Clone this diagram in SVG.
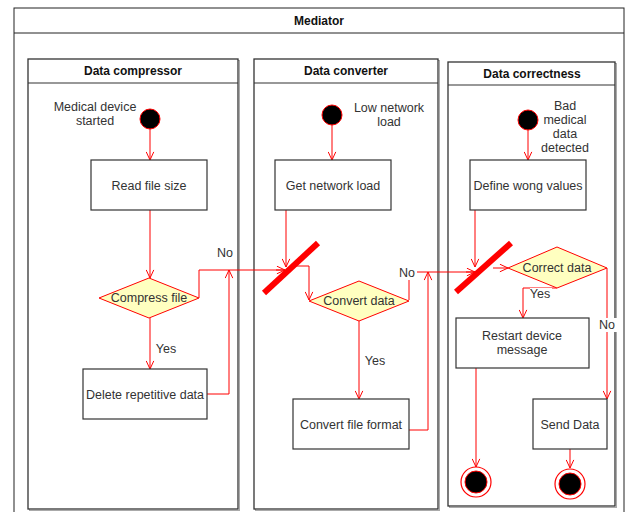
<svg xmlns="http://www.w3.org/2000/svg" width="630" height="512" viewBox="0 0 630 512">
  <defs>
    <marker id="open" viewBox="0 0 10 10" refX="9.5" refY="5" markerWidth="9" markerHeight="9" markerUnits="userSpaceOnUse" orient="auto">
      <path d="M0.5,0.8 L9.5,5 L0.5,9.2" fill="none" stroke="#ff0000" stroke-width="1.1"/>
    </marker>
    <style>
      text { font-family: "Liberation Sans", Arial, sans-serif; font-size: 12.5px; fill: #333; }
      .title { font-weight: bold; fill: #111; font-size: 12px; }
      .pool { fill: #fff; stroke: #222; stroke-width: 1; }
      .lane { fill: #fff; stroke: #333; stroke-width: 1.3; }
      .lane-shadow { fill: none; stroke: #aaa; stroke-width: 1; }
      .box { fill: #fff; stroke: #333; stroke-width: 1.2; }
      .dec { fill: #ffffc0; stroke: #ff0000; stroke-width: 1; }
      .start { fill: #000; stroke: #ff0000; stroke-width: 1; }
      .endo { fill: #fff; stroke: #ff0000; stroke-width: 1.2; }
      .edge { fill: none; stroke: #ff0000; stroke-width: 1; }
      .arr { marker-end: url(#open); }
      .bar { stroke: #ff0000; stroke-width: 6; }
      .lbl { fill: #333; }
    </style>
  </defs>

  <!-- pool -->
  <g id="pool-mediator">
    <rect class="pool" x="14" y="8" width="610" height="520"/>
    <line x1="14" y1="33" x2="624" y2="33" stroke="#222" stroke-width="1"/>
    <text class="title" x="319" y="25" text-anchor="middle">Mediator</text>
  </g>

  <!-- lanes -->
  <g id="lane-compressor">
    <rect class="lane-shadow" x="29.5" y="60.5" width="210" height="450"/>
    <rect class="lane" x="28" y="59" width="210" height="450"/>
    <line x1="28" y1="83" x2="238" y2="83" stroke="#333" stroke-width="1.2"/>
    <text class="title" x="133" y="75" text-anchor="middle">Data compressor</text>
  </g>
  <g id="lane-converter">
    <rect class="lane-shadow" x="255.5" y="60.5" width="184" height="450"/>
    <rect class="lane" x="254" y="59" width="184" height="450"/>
    <line x1="254" y1="83" x2="438" y2="83" stroke="#333" stroke-width="1.2"/>
    <text class="title" x="346" y="75" text-anchor="middle">Data converter</text>
  </g>
  <g id="lane-correctness">
    <rect class="lane-shadow" x="449.5" y="63.5" width="167" height="444"/>
    <rect class="lane" x="448" y="62" width="167" height="444"/>
    <line x1="448" y1="85" x2="615" y2="85" stroke="#333" stroke-width="1.2"/>
    <text class="title" x="532" y="78" text-anchor="middle">Data correctness</text>
  </g>

  <!-- connectors -->
  <g id="connectors">
    <path class="edge arr" d="M150,129 V160"/>
    <path class="edge arr" d="M150,210 V278"/>
    <path class="edge arr" d="M150,318 V369"/>
    <path class="edge" d="M199,298 V270 H285"/>
    <path class="edge arr" d="M276,270 H285"/>
    <path class="edge arr" d="M207,394 H229 V270"/>

    <path class="edge arr" d="M332,125 V160"/>
    <path class="edge arr" d="M286,210 V267"/>
    <path class="edge arr" d="M292,266 H309 V300"/>
    <path class="edge arr" d="M359,321 V399"/>
    <path class="edge" d="M409,300 V272 H475"/>
    <path class="edge arr" d="M466,272 H475"/>
    <path class="edge arr" d="M409,430 H428 V272"/>

    <path class="edge arr" d="M528,130 V160"/>
    <path class="edge arr" d="M475,210 V267"/>
    <path class="edge arr" d="M493,268 H508"/>
    <path class="edge arr" d="M557,288 H523 V318"/>
    <path class="edge arr" d="M607,268 V399"/>
    <path class="edge arr" d="M476,368 V467"/>
    <path class="edge arr" d="M570,449 V468"/>

    <!-- fork bars -->
    <line class="bar" x1="264" y1="293" x2="318" y2="243"/>
    <line class="bar" x1="456" y1="292" x2="511" y2="243"/>

    <!-- edge labels -->
    <rect x="216" y="246" width="19" height="14" fill="#fff"/>
    <text class="lbl" x="225" y="257" text-anchor="middle">No</text>
    <text class="lbl" x="166" y="353" text-anchor="middle">Yes</text>
    <rect x="398" y="266" width="19" height="14" fill="#fff"/>
    <text class="lbl" x="407" y="277" text-anchor="middle">No</text>
    <text class="lbl" x="375" y="365" text-anchor="middle">Yes</text>
    <rect x="530" y="288" width="22" height="12" fill="#fff"/>
    <text class="lbl" x="540" y="298" text-anchor="middle">Yes</text>
    <rect x="598" y="318" width="19" height="14" fill="#fff"/>
    <text class="lbl" x="607" y="329" text-anchor="middle">No</text>
  </g>

  <!-- Data compressor nodes -->
  <g id="start-medical">
    <circle class="start" cx="150" cy="119" r="10"/>
    <text x="95" y="111" text-anchor="middle">Medical device</text>
    <text x="95" y="125" text-anchor="middle">started</text>
  </g>
  <g id="read-file-size">
    <rect class="box" x="91" y="160" width="116" height="50"/>
    <text x="149" y="190" text-anchor="middle">Read file size</text>
  </g>
  <g id="compress-file">
    <polygon class="dec" points="149,278 199,298 149,318 99,298"/>
    <text x="149" y="302" text-anchor="middle">Compress file</text>
  </g>
  <g id="delete-repetitive">
    <rect class="box" x="83" y="369" width="124" height="50"/>
    <text x="145" y="399" text-anchor="middle">Delete repetitive data</text>
  </g>

  <!-- Data converter nodes -->
  <g id="start-network">
    <circle class="start" cx="332" cy="115" r="10"/>
    <text x="389" y="112" text-anchor="middle">Low network</text>
    <text x="389" y="126" text-anchor="middle">load</text>
  </g>
  <g id="get-network-load">
    <rect class="box" x="275" y="160" width="116" height="50"/>
    <text x="333" y="190" text-anchor="middle">Get network load</text>
  </g>
  <g id="convert-data">
    <polygon class="dec" points="359,281 409,301 359,321 309,301"/>
    <text x="359" y="305" text-anchor="middle">Convert data</text>
  </g>
  <g id="convert-file-format">
    <rect class="box" x="293" y="399" width="116" height="50"/>
    <text x="351" y="429" text-anchor="middle">Convert file format</text>
  </g>

  <!-- Data correctness nodes -->
  <g id="start-bad-data">
    <circle class="start" cx="528" cy="120" r="10"/>
    <text x="565" y="110" text-anchor="middle">Bad</text>
    <text x="565" y="124" text-anchor="middle">medical</text>
    <text x="565" y="138" text-anchor="middle">data</text>
    <text x="565" y="152" text-anchor="middle">detected</text>
  </g>
  <g id="define-wrong-values">
    <rect class="box" x="470" y="160" width="116" height="50"/>
    <text x="528" y="190" text-anchor="middle">Define wong values</text>
  </g>
  <g id="correct-data">
    <polygon class="dec" points="557,247 607,268 557,288 508,268"/>
    <text x="557" y="272" text-anchor="middle">Correct data</text>
  </g>
  <g id="restart-device">
    <rect class="box" x="456" y="318" width="133" height="50"/>
    <text x="522" y="340" text-anchor="middle">Restart device</text>
    <text x="522" y="354" text-anchor="middle">message</text>
  </g>
  <g id="send-data">
    <rect class="box" x="533" y="399" width="74" height="50"/>
    <text x="570" y="429" text-anchor="middle">Send Data</text>
  </g>
  <g id="end-restart">
    <circle class="endo" cx="476" cy="482" r="15"/>
    <circle class="start" cx="476" cy="482" r="11"/>
  </g>
  <g id="end-send">
    <circle class="endo" cx="570" cy="484" r="15"/>
    <circle class="start" cx="570" cy="484" r="11"/>
  </g>
</svg>
